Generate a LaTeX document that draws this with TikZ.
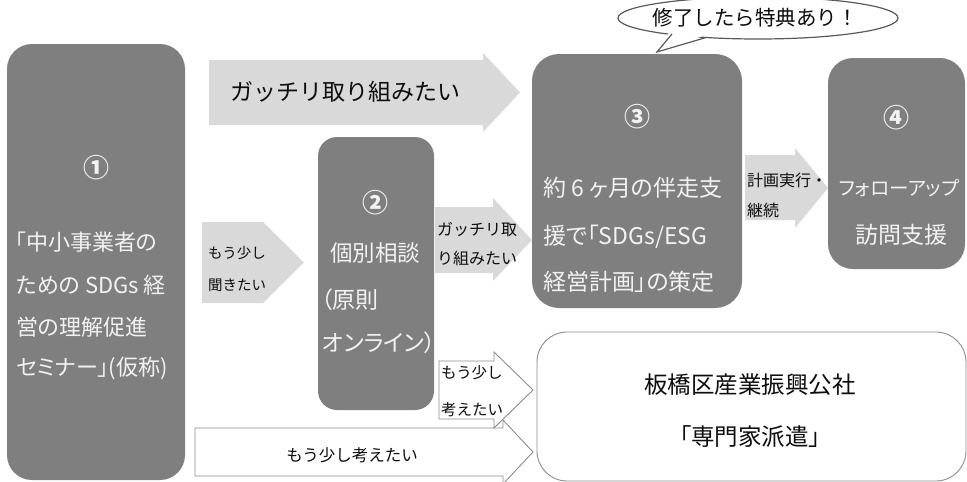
\documentclass[tikz,border=0pt]{standalone}
\usepackage{fontspec}
\setmainfont[RawFeature=+palt]{Noto Sans CJK JP}
\newfontfamily\fwfont{Noto Sans CJK JP}
\usetikzlibrary{shapes.geometric}
\definecolor{boxgray}{HTML}{7F7F7F}
\definecolor{arrgray}{HTML}{D9D9D9}
\definecolor{edgegray}{HTML}{8C8C8C}
\definecolor{callgray}{HTML}{595959}
\definecolor{txtw}{HTML}{F2F2F2}
\definecolor{txtk}{HTML}{0D0D0D}
\newcommand{\fsz}[1]{\fontsize{#1}{#1}\selectfont}
\begin{document}
\begin{tikzpicture}[x=1pt,y=-1pt,
  gbox/.style={fill=boxgray, draw=none, inner sep=0pt, outer sep=0pt},
  wbox/.style={fill=white, draw=edgegray, line width=0.9pt, inner sep=0pt, outer sep=0pt},
  wtxt/.style={text=txtw, inner sep=0pt, font=\fsz{22}},
  num/.style={text=txtw, inner sep=0pt, font=\bfseries\fsz{26}},
  ktxt/.style={text=txtk, inner sep=0pt, font=\fsz{23.5}},
  stxt/.style={text=txtk, inner sep=0pt, font=\fwfont\fsz{16}},
  garrow/.style={fill=arrgray, draw=none},
  warrow/.style={fill=white, draw=edgegray, line width=0.9pt}]
\useasboundingbox (0,0) rectangle (967,482);

% ---- block arrows (drawn first) ----
\fill[garrow] (209,60) -- (483,60) -- (483,53) -- (520,92.5) -- (483,132) -- (483,125) -- (209,125) -- cycle;
\node[stxt, anchor=west, font=\fwfont\fsz{23}] (tGa) at (230,92) {ガッチリ取り組みたい};

\fill[garrow] (202,222) -- (263,222) -- (304,262.5) -- (263,303) -- (202,303) -- cycle;
\node[stxt, anchor=west, font=\fwfont\fsz{14.5}] (tMo1) at (208,253) {もう少し};
\node[stxt, anchor=west, font=\fwfont\fsz{14.5}] (tMo2) at (208,285) {聞きたい};

\fill[garrow] (435,207) -- (493,207) -- (493,198) -- (532,240) -- (493,281) -- (493,273) -- (435,273) -- cycle;
\node[stxt, anchor=west] (tGb1) at (437,230) {ガッチリ取};
\node[stxt, anchor=west] (tGb2) at (437,258) {り組みたい};

\fill[garrow] (745,155) -- (795,155) -- (795,148) -- (828,188) -- (795,228) -- (795,220) -- (745,220) -- cycle;
\node[stxt, anchor=west] (tKe1) at (747,180) {計画実行・};
\node[stxt, anchor=west] (tKe2) at (747,210) {継続};

\draw[warrow] (195,428) -- (503,428) -- (503,420) -- (533,452) -- (503,484) -- (503,476) -- (195,476) -- cycle;
\node[stxt, font=\fwfont\fsz{16.5}] (tKa) at (352,455) {もう少し考えたい};

\draw[warrow] (439,361) -- (494,361) -- (494,352) -- (533,390) -- (494,428) -- (494,419) -- (439,419) -- cycle;
\node[stxt, anchor=west, font=\fwfont\fsz{15.5}] (tKb1) at (441,373) {もう少し};
\node[stxt, anchor=west, font=\fwfont\fsz{15.5}] (tKb2) at (441,410) {考えたい};

% ---- boxes ----
\node[gbox, rounded corners=25pt, minimum width=178, minimum height=436] (b1) at (96,262) {};
\node[num] (n1) at (96,168) {①};
\node[wtxt, anchor=west] (l11) at (15,242) {「中小事業者の};
\node[wtxt, anchor=west] (l12) at (16,285) {ための SDGs 経};
\node[wtxt, anchor=west] (l13) at (16,327) {営の理解促進};
\node[wtxt, anchor=west] (l14) at (16,368) {セミナー」(仮称)};

\node[gbox, rounded corners=19pt, minimum width=116, minimum height=273] (b2) at (376,273.5) {};
\node[num] (n2) at (375,203) {②};
\node[wtxt, font=\fsz{22.5}] (l21) at (375,253) {個別相談};
\node[wtxt, anchor=west, font=\fsz{23}] (l22) at (321,300) {（原則};
\node[wtxt, anchor=west, font=\fsz{23}] (l23) at (322,343) {オンライン）};

\node[gbox, rounded corners=27pt, minimum width=210, minimum height=254] (b3) at (637,181) {};
\node[num] (n3) at (637,117) {③};
\node[wtxt, anchor=west, font=\fsz{23}] (l31) at (543,188) {約 6 ヶ月の伴走支};
\node[wtxt, anchor=west, font=\fsz{23}] (l32) at (543,237) {援で「SDGs/ESG};
\node[wtxt, anchor=west, font=\fsz{23}] (l33) at (543,282) {経営計画」の策定};

\node[gbox, rounded corners=25pt, minimum width=137, minimum height=211] (b4) at (896.5,163.5) {};
\node[num] (n4) at (896,118) {④};
\node[wtxt, font=\fsz{19.5}] (l41) at (899,188) {フォローアップ};
\node[wtxt, font=\fsz{23}] (l42) at (901,235) {訪問支援};

\node[wbox, rounded corners=30pt, minimum width=429, minimum height=149] (b5) at (751.5,406.5) {};
\node[ktxt] (l51) at (750,385) {板橋区産業振興公社};
\node[ktxt] (l52) at (750,437) {「専門家派遣」};

% ---- callout ----
\node[ellipse, draw=callgray, line width=1.2pt, fill=white, minimum width=280, minimum height=42, inner sep=0pt] (call) at (758,18) {};
\coordinate (tailtip) at (657,52);
\fill[white] (670,31) -- (tailtip) -- (708,34) -- cycle;
\draw[callgray, line width=1.2pt, line join=miter] (672,34) -- (tailtip) -- (706,37.5);
\node[stxt, font=\fwfont\fsz{20.5}] (ct) at (755,18) {修了したら特典あり！};
\end{tikzpicture}
\end{document}
